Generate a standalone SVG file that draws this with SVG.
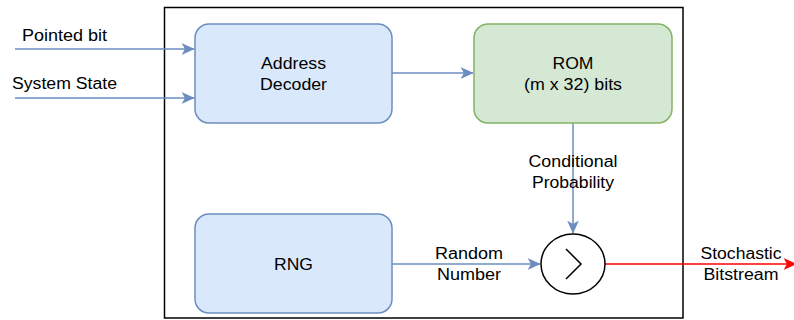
<svg xmlns="http://www.w3.org/2000/svg" width="794" height="320" viewBox="0 0 794 320">
<style>
text{font-family:"Liberation Sans",Arial,sans-serif;font-size:16px;fill:#000;text-anchor:middle}
.blue{fill:#dae8fc;stroke:#6c8ebf;stroke-width:1.5}
.green{fill:#d5e8d4;stroke:#82b366;stroke-width:1.5}
.edge{fill:none;stroke:#6c8ebf;stroke-width:1.5}
.red{fill:none;stroke:#ff0000;stroke-width:1.5}
</style>
<defs>
<marker id="ab" viewBox="0 0 10 10" refX="9.5" refY="5" markerWidth="13" markerHeight="13" markerUnits="userSpaceOnUse" orient="auto"><path d="M0,0.5 L10,5 L0,9.5 L2.5,5 Z" fill="#6c8ebf"/></marker>
<marker id="ar" viewBox="0 0 10 10" refX="9.5" refY="5" markerWidth="13" markerHeight="13" markerUnits="userSpaceOnUse" orient="auto"><path d="M0,0.5 L10,5 L0,9.5 L2.5,5 Z" fill="#ff0000"/></marker>
</defs>
<rect x="164.5" y="7.5" width="518.5" height="310.5" fill="#fff" stroke="#000" stroke-width="1.5"/>
<g id="connectors">
<path class="edge" d="M15,49 H194" marker-end="url(#ab)"/>
<path class="edge" d="M15,98 H194" marker-end="url(#ab)"/>
<path class="edge" d="M392,73 H473" marker-end="url(#ab)"/>
<path class="edge" d="M573,123 V233" marker-end="url(#ab)"/>
<path class="edge" d="M392,264 H540" marker-end="url(#ab)"/>
<path class="red" d="M604,264 H796" marker-end="url(#ar)"/>
<text x="64.5" y="41" textLength="85" lengthAdjust="spacingAndGlyphs">Pointed bit</text>
<text x="64.5" y="89" textLength="105" lengthAdjust="spacingAndGlyphs">System State</text>
<text x="573" y="167" textLength="89" lengthAdjust="spacingAndGlyphs">Conditional</text>
<text x="573" y="188" textLength="82" lengthAdjust="spacingAndGlyphs">Probability</text>
<text x="469" y="259" textLength="68" lengthAdjust="spacingAndGlyphs">Random</text>
<text x="469" y="280" textLength="64" lengthAdjust="spacingAndGlyphs">Number</text>
<text x="741" y="259" textLength="81" lengthAdjust="spacingAndGlyphs">Stochastic</text>
<text x="741" y="280" textLength="75" lengthAdjust="spacingAndGlyphs">Bitstream</text>
</g>
<g id="address-decoder">
<rect class="blue" x="195" y="24" width="197" height="99" rx="14"/>
<text x="293.5" y="69" textLength="65" lengthAdjust="spacingAndGlyphs">Address</text>
<text x="293.5" y="90" textLength="67" lengthAdjust="spacingAndGlyphs">Decoder</text>
</g>
<g id="rom">
<rect class="green" x="474" y="24" width="198" height="99" rx="14"/>
<text x="573" y="69" textLength="41" lengthAdjust="spacingAndGlyphs">ROM</text>
<text x="573" y="90" textLength="98" lengthAdjust="spacingAndGlyphs">(m x 32) bits</text>
</g>
<g id="rng">
<rect class="blue" x="195" y="214" width="197" height="99" rx="14"/>
<text x="293.5" y="270" textLength="39" lengthAdjust="spacingAndGlyphs">RNG</text>
</g>
<g id="comparator">
<ellipse cx="573" cy="264" rx="32" ry="30" fill="#fff" stroke="#000" stroke-width="1.5"/>
<path d="M566,249 L581,264 L566,279" fill="none" stroke="#000" stroke-width="1.5"/>
</g>
</svg>
